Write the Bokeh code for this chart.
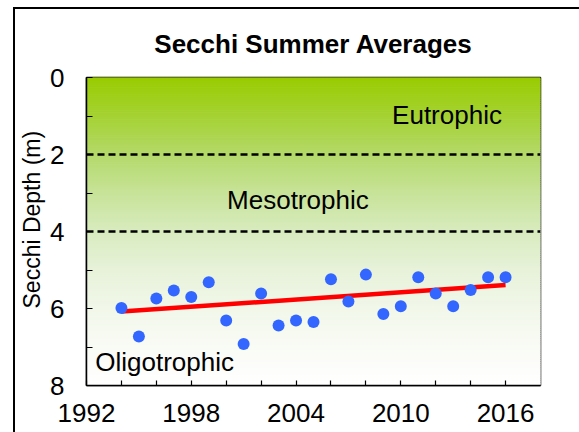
import numpy as np
from bokeh.plotting import figure
from bokeh.models import Range1d, FixedTicker, Label, Span, Title
from bokeh.embed import file_html
from bokeh.resources import INLINE

# ---- data ----
years = list(range(1994, 2017))
secchi_depth = [5.99, 6.73, 5.74, 5.53, 5.70, 5.32, 6.31, 6.92, 5.61, 6.44, 6.31, 6.35,
                5.24, 5.82, 5.12, 6.14, 5.94, 5.19, 5.61, 5.94, 5.52, 5.19, 5.19]
trend_years = [1994, 2016]
trend_depth = [6.08, 5.39]
x_major_ticks = [1992, 1998, 2004, 2010, 2016]
x_minor_ticks = [1994, 1996, 2000, 2002, 2006, 2008, 2012, 2014]
y_major_ticks = [0, 2, 4, 6, 8]
y_minor_ticks = [1, 3, 5, 7]
boundary_depths = [2, 4]

FONT = "Liberation Sans"

p = figure(width=579, height=432, x_range=Range1d(1992, 2018), y_range=Range1d(8, 0),
           output_backend="svg", toolbar_location=None,
           min_border_left=86, min_border_right=39, min_border_top=77, min_border_bottom=47)
# outer chart-area frame (top and left edges) drawn as the figure's own background
p.border_fill_color = None
p.styles = {"background": "linear-gradient(#000,#000) 13px 7px / 2px 100% no-repeat, "
                          "linear-gradient(#000,#000) 13px 7px / 100% 2px no-repeat, #fff"}

# gradient background (green at top fading to white)
stop_d = [0, 1, 2, 3, 4, 5, 6, 7, 8]
stop_rgb = np.array([(153, 204, 0), (165, 210, 50), (180, 217, 105), (199, 227, 152),
                     (216, 235, 190), (231, 242, 217), (241, 247, 233), (249, 251, 245),
                     (255, 255, 255)], dtype=float)
edges = np.linspace(0, 8, 161)
mids = (edges[:-1] + edges[1:]) / 2
cols = []
for m in mids:
    r = np.interp(m, stop_d, stop_rgb[:, 0])
    g = np.interp(m, stop_d, stop_rgb[:, 1])
    b = np.interp(m, stop_d, stop_rgb[:, 2])
    cols.append("#%02x%02x%02x" % (int(round(r)), int(round(g)), int(round(b))))
p.quad(left=1992, right=2018, top=edges[:-1], bottom=edges[1:], fill_color=cols,
       line_color=cols, line_width=1)

for d in boundary_depths:
    p.add_layout(Span(location=d, dimension="width", line_color="black",
                      line_width=2.5, line_dash="7 4"))

p.line(trend_years, trend_depth, line_color="#ff0000", line_width=4.5)
p.scatter(years, secchi_depth, size=12, fill_color="#3366ff", line_color=None)

# axes
p.xgrid.grid_line_color = None
p.ygrid.grid_line_color = None
p.outline_line_color = "black"
p.outline_line_width = 1.5
p.background_fill_color = "white"

p.xaxis.ticker = FixedTicker(ticks=x_major_ticks, minor_ticks=x_minor_ticks)
p.yaxis.ticker = FixedTicker(ticks=y_major_ticks, minor_ticks=y_minor_ticks)
for ax in (p.xaxis, p.yaxis):
    ax.axis_line_color = "black"
    ax.axis_line_width = 1.5
    ax.major_tick_line_color = "black"
    ax.minor_tick_line_color = "black"
    ax.major_tick_line_width = 1.2
    ax.minor_tick_line_width = 1.2
    ax.major_tick_out = 0
    ax.minor_tick_out = 0
    ax.major_label_text_font = FONT
    ax.major_label_text_font_size = "26px"
    ax.major_label_text_color = "black"
p.xaxis.major_tick_in = 5
p.xaxis.minor_tick_in = 5
p.yaxis.major_tick_in = 6
p.yaxis.minor_tick_in = 6
p.xaxis.major_label_standoff = 18
p.yaxis.major_label_standoff = 22

# title and y label
p.title.text = "Secchi Summer Averages"
p.title.align = "center"
p.title.text_font = FONT
p.title.text_font_size = "26px"
p.title.text_font_style = "bold"
p.title.text_color = "black"
p.title.standoff = 37

p.add_layout(Title(text="Secchi Depth (m)", align="left", offset=77, standoff=5,
                   text_font=FONT, text_font_size="23px", text_font_style="normal",
                   text_color="black"), "left")

# zone labels
p.add_layout(Label(x=2009.5, y=0.97, text="Eutrophic", text_align="left",
                   text_baseline="alphabetic", text_font=FONT, text_font_size="26px",
                   text_color="black"))
p.add_layout(Label(x=2000.05, y=3.19, text="Mesotrophic", text_align="left",
                   text_baseline="alphabetic", text_font=FONT, text_font_size="26px",
                   text_color="black"))
p.add_layout(Label(x=1992.5, y=7.40, text="Oligotrophic", text_align="left",
                   text_baseline="alphabetic", text_font=FONT, text_font_size="26px",
                   text_color="black"))

open("out.html", "w").write(file_html(p, INLINE))
